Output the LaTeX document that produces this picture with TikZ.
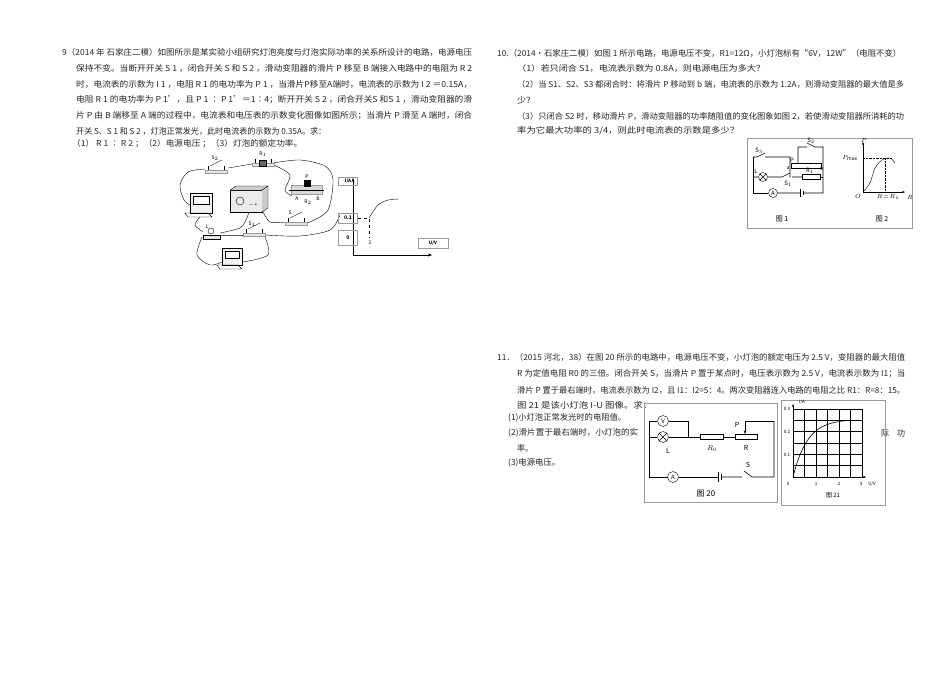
\documentclass[tikz,border=0pt]{standalone}
\usepackage{fontspec}
\usepackage{graphicx}
\setmainfont{Noto Sans CJK SC}
\usetikzlibrary{arrows.meta,decorations.markings}
\newcommand\tl[4]{\node[anchor=west,inner sep=0pt,text=black!85] at (#1,#2) {\resizebox{#3pt}{7pt}{\fontsize{9pt}{10pt}\selectfont #4}};}
\newcommand\lbl[3]{\node[inner sep=0pt,font=\fontsize{6pt}{7pt}\selectfont] at (#1,#2) {#3};}
\tikzset{wire/.style={line width=0.6pt},thin wire/.style={line width=0.4pt},
 box/.style={draw=black!40,line width=0.6pt},
 meter/.style={draw,circle,minimum size=9pt,inner sep=0pt,font=\fontsize{6pt}{6pt}\selectfont},
 res/.style={draw,fill=white,minimum width=22pt,minimum height=5pt,inner sep=0pt}}
\begin{document}
\begin{tikzpicture}[x=1pt,y=-1pt]
\useasboundingbox[fill=white] (0,0) rectangle (950,672);
% ---------- Q9 text
\tl{62}{52}{410}{9（2014 年\ 石家庄二模）如图所示是某实验小组研究灯泡亮度与灯泡实际功率的关系所设计的电路，电源电压}
\tl{76}{68}{396}{保持不变。当断开开关 S 1 ，闭合开关 S 和 S 2 ，滑动变阻器的滑片 P 移至 B 端接入电路中的电阻为 R 2}
\tl{76}{84}{396}{时，电流表的示数为 I 1 ，电阻 R 1 的电功率为 P 1 ，当滑片P移至A端时，电流表的示数为 I 2 ＝0.15A，}
\tl{76}{100}{396}{电阻 R 1 的电功率为 P 1'，且 P 1 ∶ P 1'＝1∶4；断开开关 S 2 ，闭合开关S 和S 1 ，滑动变阻器的滑}
\tl{76}{116}{396}{片 P 由 B 端移至 A 端的过程中，电流表和电压表的示数变化图像如图所示；当滑片 P 滑至 A 端时，闭合}
\tl{76}{131}{250}{开关 S、S 1 和 S 2 ，灯泡正常发光，此时电流表的示数为 0.35A。求：}
\tl{72}{144}{230}{（1） R 1 ∶ R 2 ；（2）电源电压 ；（3）灯泡的额定功率。}
% ---------- Q9 apparatus (simplified)
\draw[thin wire] plot[smooth] coordinates {(205,169)(188,172)(180,185)(184,200)(190,205)};
\draw[thin wire] plot[smooth] coordinates {(228,168)(240,166)(252,164)};
\draw[thin wire] plot[smooth] coordinates {(273,163)(300,160)(325,166)(333,180)(328,210)(310,222)(307,222)};
\draw[thin wire] plot[smooth] coordinates {(274,165)(290,175)(285,190)(292,196)};
\draw[thin wire] plot[smooth] coordinates {(285,222)(270,222)(262,210)};
\draw[thin wire] plot[smooth] coordinates {(250,210)(245,222)(240,228)(225,232)(220,233)};
\draw[thin wire] plot[smooth] coordinates {(200,217)(195,225)(203,232)};
\draw[thin wire] plot[smooth] coordinates {(220,235)(243,235)};
\draw[thin wire] plot[smooth] coordinates {(265,235)(300,236)(330,230)(340,215)};
\draw[thin wire] plot[smooth] coordinates {(202,237)(197,255)(210,265)(222,262)};
\draw[thin wire] plot[smooth] coordinates {(265,237)(268,255)(243,262)};
\foreach \n/\x/\y in {s2/205/165, rone/252/158, s/285/217, sone/243/228}{
 \draw[box,fill=black!10] (\x,\y+5) rectangle ++(22,3);
 \draw[thin wire] (\x+3,\y+5) -- ++(0,-4) (\x+19,\y+5) -- ++(0,-4);
}
\draw (210,166) -- (222,160) (290,218) -- (302,212) (248,229) -- (260,223);
\draw[fill=black!60] (259,160) rectangle (266,166);
\node[font=\fontsize{5pt}{5pt}\selectfont] at (215,158) {S$_2$};
\node[font=\fontsize{5pt}{5pt}\selectfont] at (263,154) {R$_1$};
\node[font=\fontsize{5pt}{5pt}\selectfont] at (290,213) {S};
\node[font=\fontsize{5pt}{5pt}\selectfont] at (252,224) {S$_1$};
\draw[box,fill=black!15] (291,185) rectangle (322,194);
\draw (289,190) -- (324,190);
\draw[fill=black] (304,180) rectangle (310,186);
\node[font=\fontsize{5pt}{5pt}\selectfont] at (307,177) {P};
\node[font=\fontsize{5pt}{5pt}\selectfont] at (297,199) {A};
\node[font=\fontsize{5pt}{5pt}\selectfont] at (318,199) {B};
\node[font=\fontsize{5pt}{5pt}\selectfont] at (308,202) {R$_2$};
\draw[fill=black!8] (230,190) rectangle (262,212);
\draw[fill=black!20] (262,190) -- (268,186) -- (268,208) -- (262,212);
\draw[fill=black!20] (230,190) -- (236,186) -- (268,186) -- (262,190);
\draw (240,201) circle (4);
\node[font=\fontsize{5pt}{5pt}\selectfont] at (253,205) {$-$\,+};
\draw[fill=black!5] (190,193) rectangle (212,213);
\draw[fill=white] (193,196) rectangle (209,204);
\draw (185,213) -- (208,213) -- (212,217) -- (188,217) -- cycle;
\draw[fill=black!5] (222,248) rectangle (242,265);
\draw[fill=white] (225,251) rectangle (239,258);
\draw (217,265) -- (238,265) -- (242,269) -- (220,269) -- cycle;
\draw[fill=black!10] (203,235) rectangle (220,239);
\draw (211,231) circle (3);
\node[font=\fontsize{5pt}{5pt}\selectfont] at (207,227) {L};
% ---------- Q9 graph
\draw[thin wire,-{Stealth[length=4pt]}] (353,255) -- (353,178);
\draw[thin wire,-{Stealth[length=4pt]}] (353,255) -- (432,255);
\node[box,draw,minimum width=19pt,minimum height=8pt,inner sep=0pt,font=\fontsize{4.5pt}{5pt}\selectfont\itshape] (ia) at (348,181) {\textbf{I/A}};
\node[box,draw,minimum width=19pt,minimum height=10pt,inner sep=0pt,font=\fontsize{5pt}{5pt}\selectfont] (p1) at (348,218) {\textbf{0.1}};
\node[box,draw,minimum width=19pt,minimum height=15pt,inner sep=0pt,font=\fontsize{5pt}{5pt}\selectfont] (p0) at (348,238) {\textbf{0}};
\node[box,draw,minimum width=30pt,minimum height=10pt,inner sep=0pt,font=\fontsize{4.5pt}{5pt}\selectfont\itshape] (uv) at (433,243) {\textbf{U/V}};
\draw[thin wire,dashed] (p1.east) -- (369,218) -- (369,237);
\node[font=\fontsize{5pt}{5pt}\selectfont] at (370,243) {2};
\draw[thin wire] plot[smooth] coordinates {(369,218)(378,205)(388,200)(399,199)};
% ---------- Q10 text
\tl{497}{53}{404}{10.（2014•石家庄二模）如图 1 所示电路，电源电压不变，R1=12Ω，小灯泡标有“6V，12W”（电阻不变）}
\tl{517}{68}{248}{（1）若只闭合 S1，电流表示数为 0.8A，则电源电压为多大？}
\tl{517}{84}{387}{（2）当 S1、S2、S3 都闭合时：将滑片 P 移动到 b 端，电流表的示数为 1.2A，则滑动变阻器的最大值是多}
\tl{517}{100}{18}{少？}
\tl{517}{116}{387}{（3）只闭合 S2 时，移动滑片 P，滑动变阻器的功率随阻值的变化图象如图 2，若使滑动变阻器所消耗的功}
\tl{517}{131}{222}{率为它最大功率的 3/4，则此时电流表的示数是多少？}
% ---------- Q10 figures
\draw[box] (747,138) rectangle (912,228);
\draw[wire] (753,157) -- (757,157) (757,157) -- (765,153) (765,157) -- (790,157) -- (790,177);
\draw[wire] (753,157) -- (753,193) -- (768,193);
\node[meter] (am10) at (773,193) {A};
\draw[wire] (am10.east) -- (800,193) (804,193) -- (823,193) -- (823,147) -- (815,147) (815,147) -- (807,143) (807,147) -- (798,147) -- (798,163);
\draw[wire] (800,189) -- (800,197) (803,191) -- (803,195);
\node[res,minimum width=30pt] (rh) at (806,166) {};
\draw[wire] (753,177) -- (758,177) (768,177) -- (782,177) (782,177) -- (790,173) (792,177) -- (803,177);
\node[draw,circle,minimum size=9pt,inner sep=0pt] (lamp10) at (763,177) {};
\draw (lamp10.north west) -- (lamp10.south east) (lamp10.north east) -- (lamp10.south west);
\node[res,minimum width=18pt,minimum height=5pt] (r1) at (811,177) {};
\draw[wire] (r1.east) -- (823,177);
\lbl{759}{151}{S$_3$}\lbl{756}{171}{L}\lbl{788}{184}{S$_1$}\lbl{792}{160}{P}
\lbl{788}{168}{\tiny a}\lbl{822}{169}{\tiny b}\lbl{811}{141}{S$_2$}\lbl{810}{171}{R$_1$}
\node[font=\fontsize{7pt}{7pt}\selectfont] at (782,219) {图 1};
\draw[thin wire,-{Stealth[length=3pt]}] (863,192) -- (863,142);
\draw[thin wire,-{Stealth[length=3pt]}] (863,192) -- (905,192);
\draw[thin wire,densely dotted] (863,158) -- (892,158) (885,158) -- (885,192);
\draw[thin wire] plot[smooth] coordinates {(863,192)(870,183)(875,168)(882,160)(890,158)(895,163)};
\lbl{864}{140}{$P$}\lbl{850}{158}{$P_{\max}$}\lbl{858}{196}{$O$}\lbl{888}{197}{$R\!=\!R_1$}\lbl{910}{197}{$R$}
\node[font=\fontsize{7pt}{7pt}\selectfont] at (882,219) {图 2};
% ---------- Q11 text
\tl{497}{357}{408}{11．（2015 河北，38）在图 20 所示的电路中，电源电压不变，小灯泡的额定电压为 2.5 V，变阻器的最大阻值}
\tl{517}{374}{388}{R 为定值电阻 R0 的三倍。闭合开关 S，当滑片 P 置于某点时，电压表示数为 2.5 V，电流表示数为 I1；当}
\tl{517}{390}{388}{滑片 P 置于最右端时，电流表示数为 I2，且 I1：I2=5：4。两次变阻器连入电路的电阻之比 R1：R=8：15。}
\tl{517}{405}{135}{图 21 是该小灯泡 I-U 图像。求：}
\tl{508}{418}{118}{(1)小灯泡正常发光时的电阻值。}
\tl{508}{433}{130}{(2)滑片置于最右端时，小灯泡的实}
\tl{517}{448}{16}{率。}
\tl{508}{463}{52}{(3)电源电压。}
\tl{881}{433}{24}{际\hspace{1em}功}
% ---------- Fig 20
\draw[box] (644,403) rectangle (777,502);
\node[meter,minimum size=11pt] (v20) at (663,421) {V};
\node[draw,circle,minimum size=11pt,inner sep=0pt] (l20) at (663,437) {};
\draw (l20.north west) -- (l20.south east) (l20.north east) -- (l20.south west);
\draw[wire] (v20.west) -- (649,421) -- (649,477) -- (668,477);
\draw[wire] (v20.east) -- (688,421) -- (688,437);
\draw[wire] (649,437) -- (l20.west) (l20.east) -- (700,437);
\node[res,minimum width=23pt] (r0) at (712,437) {};
\node[res,minimum width=22pt] (r20) at (746,437) {};
\draw[wire] (r0.east) -- (r20.west);
\draw[wire,-{Stealth[length=3.5pt]}] (774,421) -- (745,421) -- (745,434);
\draw[wire] (774,421) -- (774,477) -- (752,477) (752,477) -- (744,471) (742,477) -- (721,477);
\draw[wire] (718,472) -- (718,482) (721,474) -- (721,480);
\node[meter,minimum size=11pt] (a20) at (673,477) {A};
\draw[wire] (a20.east) -- (718,477);
\node[font=\fontsize{7pt}{7pt}\selectfont] at (737,425) {P};
\node[font=\fontsize{7pt}{7pt}\selectfont\itshape] at (746,448) {R};
\node[font=\fontsize{7pt}{7pt}\selectfont] at (712,449) {$R_0$};
\node[font=\fontsize{7pt}{7pt}\selectfont] at (668,451) {L};
\node[font=\fontsize{7pt}{7pt}\selectfont] at (748,465) {S};
\node[font=\fontsize{8pt}{8pt}\selectfont] at (706,494) {图 20};
% ---------- Fig 21
\draw[box] (781,400) rectangle (885,505);
\foreach \i in {0,...,6}{
 \draw[line width=0.6pt] ({793+11.5*\i},409) -- ({793+11.5*\i},477);
 \draw[line width=0.6pt] (793,{409+11.33*\i}) -- (862,{409+11.33*\i});
}
\draw[thin wire,-{Stealth[length=3pt]}] (793,477) -- (793,404);
\draw[thin wire,-{Stealth[length=3pt]}] (793,477) -- (866,477);
\draw[wire] plot[domain=0:2.5,samples=40,smooth] ({793+23*\x},{477-227*0.25*(1-exp(-1.6*\x))/(1-exp(-4))});
\foreach \t/\y in {0.3/409,0.2/432,0.1/455}{\node[font=\fontsize{4.5pt}{5pt}\selectfont] at (787,\y) {\t};}
\foreach \t/\x in {0/788,1/816,2/839,3/861}{\node[font=\fontsize{4.5pt}{5pt}\selectfont] at (\x,484) {\t};}
\node[font=\fontsize{4.5pt}{5pt}\selectfont\itshape] at (802,402) {I/A};
\node[font=\fontsize{4.5pt}{5pt}\selectfont\itshape] at (872,484) {U/V};
\node[font=\fontsize{6pt}{6pt}\selectfont] at (833,495) {图 21};
\end{tikzpicture}
\end{document}
